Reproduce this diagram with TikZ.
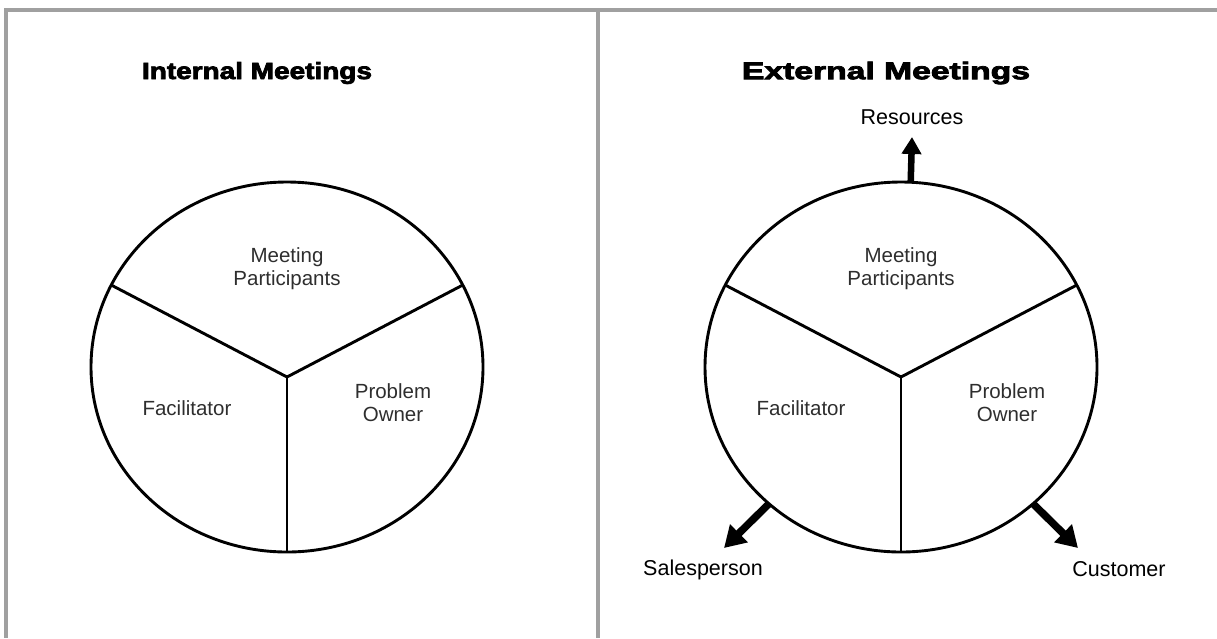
\documentclass[tikz,border=0pt]{standalone}
\usepackage{fontspec}
\setmainfont{Liberation Sans}
\newfontfamily\titlefont[FakeBold=3]{Liberation Sans Bold}
\usetikzlibrary{arrows.meta,shapes.geometric}
\definecolor{framegray}{HTML}{A0A0A0}
\begin{document}
\begin{tikzpicture}[x=1pt,y=-1pt,
  frame/.style={draw=framegray, line width=3.5pt},
  rim/.style={ellipse, draw=black, line width=2.9pt, minimum width=392pt,
    minimum height=370pt, inner sep=0pt, outer sep=0pt},
  spoke/.style={draw=black, line width=2.9pt},
  heading/.style={font=\titlefont\fontsize{22}{26}\selectfont, inner sep=0pt},
  sector/.style={font=\fontsize{20.5}{23}\selectfont, text=black!82,
    align=center, inner sep=0pt},
  outlabel/.style={font=\fontsize{21.5}{25}\selectfont, inner sep=0pt},
  flow/.style={line width=6.5pt, -{Triangle[width=19pt,length=17pt]}},
  bigflow/.style={line width=7.5pt, -{Triangle[width=24pt,length=21pt]}},
  pie/.pic={
    \node[rim] (-ring) at (0,0) {};
    \coordinate (-hub) at (0,10);
    \draw[spoke] (-hub) -- (-ring.155);
    \draw[spoke] (-hub) -- (-ring.25);
    \draw[spoke] (-hub) -- (-ring.south);
    \node[sector] (-meet) at (0,-98) {Meeting\\Participants};
    \node[sector] (-fac) at (-100,41) {Facilitator};
    \node[sector] (-own) at (106,36) {Problem\\Owner};
  }
]
\useasboundingbox (0,0) rectangle (1217,638);

% page frame and panel divider
\coordinate (tl) at (6,10);
\coordinate (tr) at (1217,10);
\coordinate (bl) at (6,638);
\coordinate (dt) at (598,10);
\coordinate (db) at (598,638);
\draw[frame] (tr) -- (tl) -- (bl);
\draw[frame] (dt) -- (db);

% headings
\node[heading] (inttitle) at (257,73) {\resizebox{230pt}{17pt}{Internal Meetings}};
\node[heading] (exttitle) at (886,73) {\resizebox{288pt}{17.5pt}{External Meetings}};

% the two role circles
\pic (L) at (287,367) {pie};
\pic (R) at (901,367) {pie};

% outward links of the external meeting
\node[outlabel] (res) at (912,117) {Resources};
\node[outlabel] (sales) at (703,570) {Salesperson};
\node[outlabel] (cust) at (1119,569) {Customer};
\coordinate (resTip) at (912,137);
\coordinate (salesTip) at (724,548);
\coordinate (custTip) at (1078,548);
\draw[flow] (R-ring.87) -- (resTip);
\draw[bigflow] (R-ring.-134) -- (salesTip);
\draw[bigflow] (R-ring.-46) -- (custTip);
\end{tikzpicture}
\end{document}
